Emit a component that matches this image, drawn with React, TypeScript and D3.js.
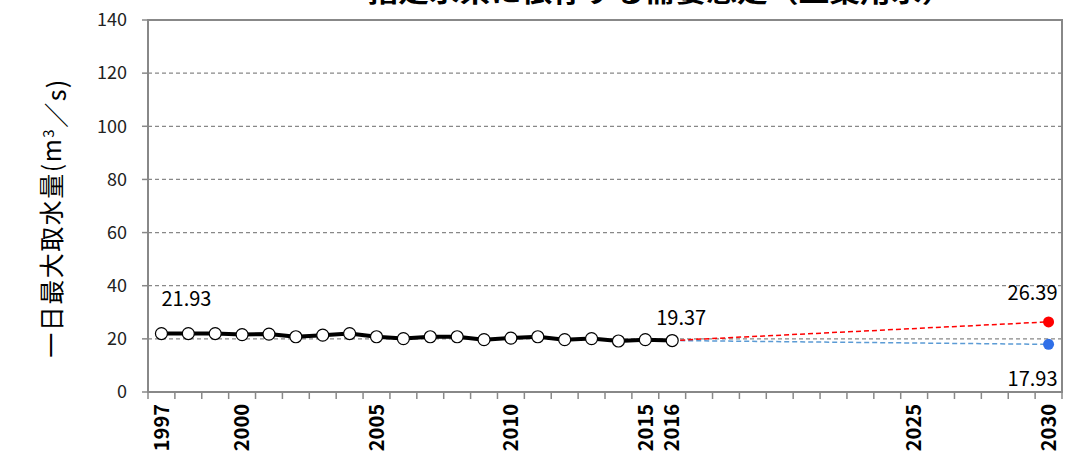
import React from "react";
import * as d3 from "d3";

const years: number[] = d3.range(1997, 2031);
const tickYears = [1997, 2000, 2005, 2010, 2015, 2016, 2025, 2030];
const actualYears = d3.range(1997, 2017);
const actualValues = [22.0, 22.0, 22.0, 21.6, 21.8, 20.8, 21.4, 22.0, 20.8, 20.1, 20.8, 20.8, 19.7, 20.3, 20.8, 19.7, 20.1, 19.2, 19.7, 19.37];
const highYears = [2016, 2030];
const highValues = [19.37, 26.39];
const lowYears = [2016, 2030];
const lowValues = [19.37, 17.93];
const yTicks = [0, 20, 40, 60, 80, 100, 120, 140];
const title = "指定水系に依存する需要想定（工業用水）";

const W = 1068, H = 462;
const L = 148, R = 1062, T = 20, B = 392;
const FONT = "'Noto Sans CJK JP', 'Noto Sans', sans-serif";

export default function App() {
  const x = d3.scaleBand<number>().domain(years).range([L, R]).paddingInner(0).paddingOuter(0);
  const cx = (yr: number) => (x(yr) as number) + x.bandwidth() / 2;
  const y = d3.scaleLinear().domain([0, 140]).range([B, T]);
  const line = d3.line<[number, number]>().x(d => cx(d[0])).y(d => y(d[1]));
  const actual = actualYears.map((yr, i) => [yr, actualValues[i]] as [number, number]);
  const high = highYears.map((yr, i) => [yr, highValues[i]] as [number, number]);
  const low = lowYears.map((yr, i) => [yr, lowValues[i]] as [number, number]);

  return (
    <svg width={W} height={H} style={{ position: "absolute", left: 0, top: 0, background: "#fff" }} fontFamily={FONT}>
      <text x={660} y={2} textAnchor="middle" fontSize={26} fontWeight="bold" textLength={585} lengthAdjust="spacingAndGlyphs" fill="#000">{title}</text>
      {/* gridlines */}
      {yTicks.filter(t => t > 0 && t < 140).map(t => (
        <line key={t} x1={L} x2={R} y1={y(t)} y2={y(t)} stroke="#888" strokeWidth={1.3} strokeDasharray="4,3" />
      ))}
      {/* plot border */}
      <rect x={L} y={T} width={R - L} height={B - T} fill="none" stroke="#888" strokeWidth={2} />
      {/* y ticks */}
      {yTicks.map(t => (
        <g key={t}>
          <line x1={L - 6} x2={L} y1={y(t)} y2={y(t)} stroke="#888" strokeWidth={1.5} />
          <text x={127} y={y(t)} dy="0.35em" textAnchor="end" fontSize={18} fill="#222">{t}</text>
        </g>
      ))}
      {/* x ticks */}
      {years.concat([2031]).map(yr => {
        const xx = yr === 2031 ? R : (x(yr) as number);
        return <line key={yr} x1={xx} x2={xx} y1={B} y2={B + 7} stroke="#888" strokeWidth={1.5} />;
      })}
      {tickYears.map(yr => (
        <text key={yr} transform={`translate(${cx(yr)},${404}) rotate(-90)`} textAnchor="end" dy="0.36em" fontSize={20} fontWeight="bold" fill="#000">{yr}</text>
      ))}
      {/* y label */}
      <text transform={`translate(52,218) rotate(-90)`} textAnchor="middle" dy="0.36em" fontSize={25} letterSpacing={1.5} fill="#000">
        一日最大取水量(m<tspan dy="-0.5em" fontSize={15}>3</tspan><tspan dy="0.5em">／s)</tspan>
      </text>
      {/* projections */}
      <path d={line(low) as string} fill="none" stroke="#5b9bd5" strokeWidth={1.5} strokeDasharray="5,3" />
      <path d={line(high) as string} fill="none" stroke="#ff0000" strokeWidth={1.5} strokeDasharray="5,3" />
      <circle cx={cx(2030)} cy={y(highValues[1])} r={5.5} fill="#ff0000" />
      <circle cx={cx(2030)} cy={y(lowValues[1])} r={5.5} fill="#2f6fe8" />
      {/* actual */}
      <path d={line(actual) as string} fill="none" stroke="#000" strokeWidth={4} strokeLinejoin="round" />
      {actual.map(d => (
        <circle key={d[0]} cx={cx(d[0])} cy={y(d[1])} r={6} fill="#fff" stroke="#000" strokeWidth={1.2} />
      ))}
      {/* data labels */}
      <text x={cx(1997) + 25} y={y(actualValues[0]) - 28} textAnchor="middle" fontSize={20} fill="#000">21.93</text>
      <text x={cx(2016) + 9} y={y(actualValues[19]) - 16} textAnchor="middle" fontSize={20} fill="#000">{"19.37"}</text>
      <text x={cx(2030) - 16} y={y(highValues[1]) - 22} textAnchor="middle" fontSize={20} fill="#000">26.39</text>
      <text x={cx(2030) - 16} y={y(lowValues[1]) + 42} textAnchor="middle" fontSize={20} fill="#000">17.93</text>
    </svg>
  );
}
